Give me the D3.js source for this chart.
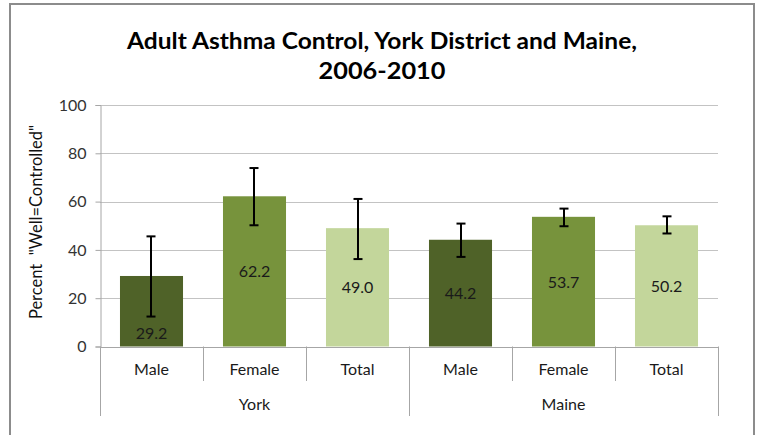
<!DOCTYPE html>
<html>
<head>
<meta charset="utf-8">
<script src="https://cdn.jsdelivr.net/npm/d3@7"></script>
<style>
  html, body { margin: 0; padding: 0; background: #fff; }
  svg { display: block; font-family: Lato, "Open Sans", sans-serif; }
</style>
</head>
<body>
<svg id="chart" width="757" height="435"></svg>
<script>
const titleLines = ["Adult Asthma Control, York District and Maine,", "2006-2010"];
const yLabel = 'Percent  "Well=Controlled"';
const groups = ["York", "Maine"];
const categories = ["Male", "Female", "Total", "Male", "Female", "Total"];
const groupOf = ["York", "York", "York", "Maine", "Maine", "Maine"];
const values = [29.2, 62.2, 49.0, 44.2, 53.7, 50.2];
const errLow = [12.4, 50.2, 36.2, 37.1, 49.8, 46.8];
const errHigh = [45.6, 73.9, 61.1, 50.9, 57.1, 53.9];
const yTicks = [0, 20, 40, 60, 80, 100];
const colorOf = { Male: "#4F6228", Female: "#77933C", Total: "#C3D69B" };

(function () {
const svg = d3.select("#chart");
svg.append("rect").attr("width", 757).attr("height", 435).attr("fill", "#fff");
svg.append("rect").attr("x", 10).attr("y", 4).attr("width", 744).attr("height", 445)
  .attr("fill", "none").attr("stroke", "#8c8c8c").attr("stroke-width", 2);

const pLeft = 100, pRight = 718, pTop = 105, pBottom = 346.5;
const y = d3.scaleLinear().domain([0, 100]).range([pBottom, pTop]);
const idx = d3.range(values.length);
const p = 0.388;
const x = d3.scaleBand().domain(idx).range([pLeft, pRight]).paddingInner(p).paddingOuter(p / 2);
const step = x.step();

// title
const titleWidths = [510, 127];
titleLines.forEach((t, i) => {
  svg.append("text").attr("x", 382).attr("y", 49 + i * 30)
    .attr("text-anchor", "middle").attr("font-weight", "bold").attr("font-size", 22)
    .attr("textLength", titleWidths[i]).attr("lengthAdjust", "spacingAndGlyphs")
    .attr("fill", "#000").text(t);
});

// gridlines
svg.append("g").selectAll("line").data(yTicks.filter(d => d > 0)).join("line")
  .attr("x1", pLeft).attr("x2", pRight)
  .attr("y1", d => Math.round(y(d)) + 0.5).attr("y2", d => Math.round(y(d)) + 0.5)
  .attr("stroke", "#c3c3c3").attr("stroke-width", 1);

// y axis
const yAxis = d3.axisLeft(y).tickValues(yTicks).tickSize(5).tickPadding(9);
const gy = svg.append("g").attr("transform", `translate(${pLeft + 0.5},0)`).call(yAxis);
gy.select(".domain").attr("stroke", "#a6a6a6");
gy.selectAll(".tick line").attr("stroke", "#a6a6a6");
gy.selectAll(".tick text").attr("font-size", 16).attr("fill", "#333").attr("font-family", "Lato, sans-serif");

svg.append("text").attr("transform", `translate(42,222) rotate(-90)`)
  .attr("text-anchor", "middle").attr("font-size", 16.5).attr("fill", "#111")
  .style("white-space", "pre").text(yLabel);

// bars
svg.append("g").selectAll("rect").data(idx).join("rect")
  .attr("x", i => x(i)).attr("width", x.bandwidth())
  .attr("y", i => y(values[i])).attr("height", i => y(0) - y(values[i]))
  .attr("fill", i => colorOf[categories[i]]);

// error bars
const eb = svg.append("g").attr("stroke", "#000").attr("stroke-width", 2);
idx.forEach(i => {
  const cx = Math.round(x(i) + x.bandwidth() / 2);
  eb.append("line").attr("x1", cx).attr("x2", cx).attr("y1", y(errLow[i])).attr("y2", y(errHigh[i]));
  [errLow[i], errHigh[i]].forEach(v => {
    eb.append("line").attr("x1", cx - 4.5).attr("x2", cx + 4.5).attr("y1", y(v)).attr("y2", y(v));
  });
});

// value labels
svg.append("g").selectAll("text").data(idx).join("text")
  .attr("x", i => x(i) + x.bandwidth() / 2)
  .attr("y", i => {
    const mid = y(values[i] / 2);
    const low = y(errLow[i]);
    return (low > mid - 12 ? low + 16 : mid) + 6;
  })
  .attr("text-anchor", "middle").attr("font-size", 16).attr("fill", "#1a1a1a")
  .text(i => values[i].toFixed(1));

// x axis line and separators
const ax = svg.append("g").attr("stroke", "#a6a6a6").attr("stroke-width", 1);
ax.append("line").attr("x1", pLeft).attr("x2", pRight).attr("y1", Math.round(pBottom) + 0.5).attr("y2", Math.round(pBottom) + 0.5);
d3.range(values.length + 1).forEach(k => {
  const bx = Math.round(pLeft + k * step) + 0.5;
  const isGroupEdge = k === 0 || k === values.length || groupOf[k] !== groupOf[k - 1];
  ax.append("line").attr("x1", bx).attr("x2", bx).attr("y1", pBottom).attr("y2", isGroupEdge ? 416 : 381);
});

// category labels
svg.append("g").selectAll("text").data(idx).join("text")
  .attr("x", i => x(i) + x.bandwidth() / 2).attr("y", 375)
  .attr("text-anchor", "middle").attr("font-size", 16).attr("fill", "#1a1a1a")
  .text(i => categories[i]);

// group labels
groups.forEach(g => {
  const members = idx.filter(i => groupOf[i] === g);
  const x0 = pLeft + d3.min(members) * step, x1 = pLeft + (d3.max(members) + 1) * step;
  svg.append("text").attr("x", (x0 + x1) / 2).attr("y", 410)
    .attr("text-anchor", "middle").attr("font-size", 16).attr("fill", "#1a1a1a").text(g);
});
})();
</script>
</body>
</html>
